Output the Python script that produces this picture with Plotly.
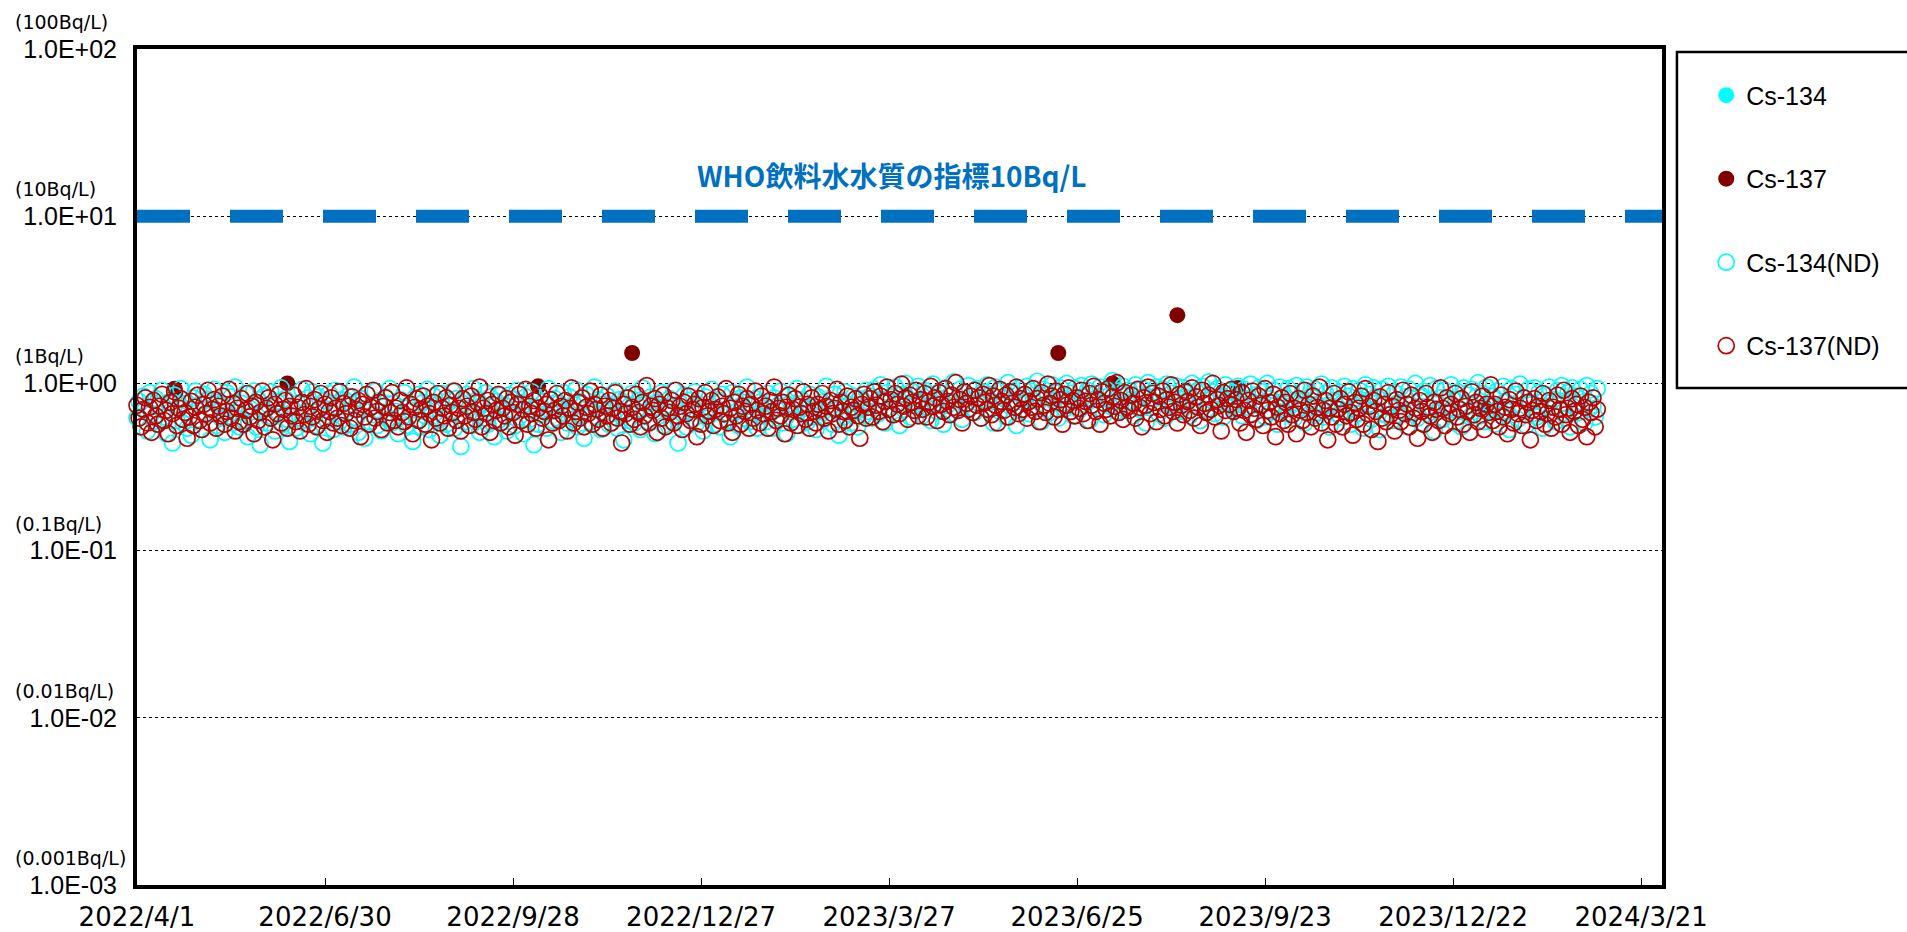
import math
import plotly.graph_objects as go
import pandas as pd

# ---------------- data ----------------
# daily detection-limit (ND) values, in hundredths of Bq/L, starting 2022/4/1
cs134_nd_x100 = [
    62,78,55,84,70,52,88,66,59,81,57,74,91,63,50,77,68,44,85,60,72,93,58,79,54,
    70,49,82,90,61,75,53,86,65,80,46,69,92,56,77,62,73,51,88,64,83,58,95,67,55,
    76,60,87,48,71,64,90,55,80,43,69,84,58,74,89,63,52,78,66,94,57,81,61,45,72,
    85,54,76,62,92,58,68,82,50,89,64,56,83,71,44,79,60,87,67,53,91,73,59,80,55,
    66,84,57,75,95,62,51,81,70,47,86,59,73,65,90,56,79,52,72,83,61,93,58,76,68,
    50,80,63,88,56,74,69,45,82,60,86,55,77,64,92,53,71,84,61,75,49,87,62,57,79,
    68,90,54,81,65,42,76,59,86,71,56,93,66,80,51,74,62,88,57,83,67,48,78,60,85,
    59,74,52,85,67,80,56,91,63,77,50,83,69,61,89,43,72,57,84,65,78,54,93,68,60,
    81,62,76,51,88,66,58,83,70,61,92,55,78,64,47,86,73,59,69,95,63,80,53,75,67,
    84,57,71,63,90,54,80,67,46,82,60,74,87,58,69,79,53,94,65,76,59,83,71,50,77,
    64,88,56,73,68,81,59,91,63,44,76,66,85,55,79,70,61,89,58,75,67,52,83,62,72,
    92,57,69,80,55,86,65,74,60,48,88,67,78,56,82,71,62,95,59,73,68,81,54,77,64,
    75,59,87,66,54,82,70,62,90,58,77,50,84,68,61,73,93,56,80,66,71,59,86,63,74,
    53,83,68,77,61,96,64,72,57,86,70,49,79,63,89,66,75,58,84,68,55,81,71,64,91,
    68,84,62,92,75,66,98,79,58,88,72,83,65,95,77,56,86,70,100,80,63,90,74,69,96,
    79,64,91,72,86,60,99,76,68,89,81,57,94,74,85,66,102,80,70,92,61,87,75,97,71,
    84,67,93,76,62,89,79,98,70,86,58,95,77,68,91,81,63,101,73,88,78,56,93,69,85,
    76,96,66,90,79,71,103,83,59,92,74,86,67,98,78,88,62,94,80,70,100,75,87,64,93,
    79,69,97,83,75,91,60,99,80,87,71,95,77,65,92,84,73,104,78,68,90,74,96,70,85,
    91,77,64,98,80,70,93,84,58,101,78,88,72,95,66,83,92,62,99,76,87,73,97,69,81,
    68,94,78,87,64,100,74,84,91,60,96,76,70,102,80,89,66,93,73,85,63,98,77,90,72,
    88,70,96,75,64,92,79,72,99,66,85,60,94,73,89,63,100,77,68,91,74,57,95,71,83,
    66,93,73,86,62,97,70,78,90,58,95,72,84,64,92,75,67,99,63,87,74,55,94,79,70,
    89,63,76,96,68,84,57,93,72,66,91,77,54,98,74,86,61,94,70,81,53,92,75,65,96,
    72,60,88,76,65,95,69,83,55,92,74,67,100,62,86,58,90,78,66,97,71,52,93,68,82,
    61,91,73,67,98,70,58,89,80,55,94,72,85,63,92,68,76,101,64,87,59,95,73,67,84,
    57,90,72,64,96,78,68,53,93,74,86,61,99,70,82,56,92,76,66,94,63,88,72,54,85,
    73,95,66,80,59,91,70,97,76,62,88,55,94,72,84,67,92,77,58,97,70,87,74,63,93,
]
cs137_nd_x100 = [
    74,62,55,70,82,58,72,51,79,64,57,73,86,60,69,50,77,66,89,56,71,81,61,67,47,
    63,78,56,72,85,60,53,75,66,91,58,70,80,54,73,64,84,57,68,92,62,76,52,71,59,
    81,57,69,87,63,73,50,77,60,67,90,55,71,82,62,46,75,66,86,58,70,79,54,73,64,
    85,59,72,52,77,65,93,57,73,63,80,55,70,87,60,75,51,68,82,58,71,62,89,56,76,
    66,73,54,83,60,70,79,48,75,63,86,57,72,91,62,68,77,53,73,82,58,67,88,60,71,
    55,79,67,59,94,63,75,50,72,81,60,70,84,57,73,66,46,77,62,87,58,71,64,82,54,
    74,67,90,60,71,52,81,64,73,56,84,67,61,77,95,55,71,66,79,51,75,60,69,86,58,
    71,64,81,55,77,67,49,75,86,60,70,92,57,73,66,79,54,71,84,62,68,75,46,80,58,
    69,87,60,73,64,79,52,71,94,58,68,77,62,82,55,72,66,90,57,75,70,61,85,54,73,
    64,79,58,71,88,62,68,44,75,66,82,57,72,61,86,67,55,77,64,97,58,73,69,81,51,
    75,62,85,55,71,67,79,58,91,64,73,53,77,66,84,60,70,75,48,81,57,72,88,64,68,
    79,56,70,83,60,73,66,93,58,71,51,77,64,86,57,73,68,81,54,75,62,90,69,58,84,
    66,73,54,79,68,95,60,71,64,77,50,72,85,58,70,81,56,72,66,89,61,75,54,82,68,
    58,75,70,87,62,73,52,79,66,71,92,57,77,68,60,84,55,72,69,81,64,47,75,86,62,
    72,81,63,89,74,68,84,59,78,95,70,80,65,87,75,66,99,73,82,61,85,77,69,91,64,
    80,70,87,63,77,96,73,82,60,88,75,68,93,78,65,85,72,101,69,80,58,89,76,70,84,
    67,91,74,82,62,86,77,70,97,65,84,74,58,92,78,69,85,63,89,76,72,95,66,81,70,
    86,62,78,72,93,68,81,59,88,74,67,99,76,84,63,90,70,80,57,86,74,94,68,79,64,
    82,71,91,66,78,60,87,74,96,68,80,57,89,76,70,93,64,83,73,101,67,79,61,88,72,
    69,85,76,62,92,72,55,82,74,95,66,87,77,59,84,70,90,64,80,72,98,68,77,58,86,
    74,65,89,78,69,94,62,83,72,56,91,76,67,85,70,100,63,80,74,52,88,69,81,75,92,
    68,80,71,58,88,69,51,79,65,90,71,61,84,74,56,93,69,77,63,86,48,72,66,82,60,
    77,57,87,65,71,50,81,69,60,91,67,75,55,84,62,72,95,58,69,79,46,71,63,87,57,
    70,81,55,75,64,89,67,49,77,61,71,84,57,93,66,73,53,79,68,45,83,62,75,59,88,
    65,73,52,80,69,59,91,66,75,55,85,62,71,47,79,68,57,87,72,64,51,77,70,60,94,
    71,56,82,66,75,48,87,63,70,81,57,73,68,51,89,65,77,59,71,84,53,75,67,98,60,
    75,68,55,85,63,72,50,80,70,58,90,66,71,56,82,65,77,46,69,81,60,73,68,87,57,
    66,79,54,72,63,85,70,57,91,65,71,51,81,68,75,56,84,61,72,48,77,67,82,55,70,
]
first_day = "2022-04-01"

# detected values (Bq/L)
cs137_dates = ["2022-04-19", "2022-06-12", "2022-10-10", "2022-11-24", "2023-06-16",
               "2023-07-12", "2023-08-12", "2023-09-10", "2024-01-06"]
cs137_values = [0.93, 1.0, 0.96, 1.52, 1.52, 1.0, 2.56, 0.94, 0.72]
cs134_dates = []
cs134_values = []

who_limit = 10
who_label = "WHO飲料水水質の指標10Bq/L"

y_tick_vals = [0.001, 0.01, 0.1, 1, 10, 100]
y_tick_text = ["1.0E-03", "1.0E-02", "1.0E-01", "1.0E+00", "1.0E+01", "1.0E+02"]
y_unit_text = ["(0.001Bq/L)", "(0.01Bq/L)", "(0.1Bq/L)", "(1Bq/L)", "(10Bq/L)", "(100Bq/L)"]
x_range = ["2022-04-01", "2024-03-31"]
x_tick_step_days = 90

# ---------------- figure ----------------
cs134_nd = [v / 100 for v in cs134_nd_x100]
cs137_nd = [v / 100 for v in cs137_nd_x100]
dates134 = pd.date_range(first_day, periods=len(cs134_nd), freq="D")
dates137 = pd.date_range(first_day, periods=len(cs137_nd), freq="D")

CYAN = "#00FFFF"
DARK = "#800000"
RED = "#C00000"
MS = 16

fig = go.Figure()
fig.add_trace(go.Scatter(x=cs134_dates if cs134_dates else [None],
                         y=cs134_values if cs134_values else [None],
                         mode="markers", name="Cs-134", legendgroup="a",
                         marker=dict(symbol="circle", size=MS, color=CYAN),
                         cliponaxis=False))
fig.add_trace(go.Scatter(x=cs137_dates, y=cs137_values, mode="markers", name="Cs-137",
                         legendgroup="b",
                         marker=dict(symbol="circle", size=16, color=DARK),
                         cliponaxis=False))
fig.add_trace(go.Scatter(x=dates134, y=cs134_nd, mode="markers", name="Cs-134(ND)",
                         legendgroup="c",
                         marker=dict(symbol="circle-open", size=MS, color=CYAN,
                                     line=dict(width=1.7, color=CYAN)),
                         cliponaxis=False))
fig.add_trace(go.Scatter(x=dates137, y=cs137_nd, mode="markers", name="Cs-137(ND)",
                         legendgroup="d",
                         marker=dict(symbol="circle-open", size=MS, color=RED,
                                     line=dict(width=1.7, color=RED)),
                         cliponaxis=False))

# WHO guideline dashed line
fig.add_shape(type="line", xref="paper", x0=0, x1=1, yref="y",
              y0=who_limit, y1=who_limit,
              line=dict(color="#0070C0", width=13, dash="53px,40px"))
fig.add_annotation(text=who_label, xref="paper", yref="paper", x=0.495, y=0.849,
                   xanchor="center", yanchor="middle", showarrow=False,
                   font=dict(family="Noto Sans CJK JP", size=28, color="#0070C0",
                             weight="bold"))

# unit labels above y tick labels
for v, t in zip(y_tick_vals, y_unit_text):
    fig.add_annotation(text=t, xref="paper", x=-0.081, xanchor="left",
                       yref="y", y=math.log10(v), yshift=27, showarrow=False,
                       font=dict(family="DejaVu Sans", size=19, color="#000"))

# legend frame
fig.add_shape(type="rect", xref="paper", yref="paper",
              x0=1.0098, x1=1.17, y0=0.5945, y1=0.9964,
              line=dict(color="#000", width=2.5), fillcolor="rgba(0,0,0,0)")

fig.update_layout(
    width=1907, height=932,
    margin=dict(l=137, r=245, t=49, b=47, autoexpand=False),
    paper_bgcolor="white", plot_bgcolor="white",
    font=dict(family="Liberation Sans", color="#000"),
    hovermode=False,
    legend=dict(x=1.029, xanchor="left", y=0.972, yanchor="top",
                font=dict(family="Liberation Sans", size=25, color="#000"),
                tracegroupgap=48, bgcolor="rgba(0,0,0,0)", borderwidth=0,
                itemsizing="trace"),
)
fig.update_xaxes(
    type="date", range=x_range, tick0=x_range[0], dtick=x_tick_step_days * 86400000,
    tickformat="%Y/%-m/%-d", ticks="inside", ticklen=7, tickcolor="#000",
    showgrid=False, showline=True, linecolor="#000", linewidth=4, mirror=True,
    tickfont=dict(family="DejaVu Sans", size=26, color="#000"), zeroline=False,
    ticklabelstandoff=6,
)
fig.update_yaxes(
    type="log", range=[-3, 2], tickvals=y_tick_vals, ticktext=y_tick_text,
    ticks="", showgrid=True, gridcolor="#000", gridwidth=1, griddash="dot",
    showline=True, linecolor="#000", linewidth=4, mirror=True,
    tickfont=dict(family="Liberation Sans", size=25, color="#000"),
    ticklabelstandoff=11, zeroline=False,
)

fig.write_html("out.html",
               config={"displayModeBar": False},
               post_script="document.body.style.margin='0px';"
                           "document.body.style.overflow='hidden';")
